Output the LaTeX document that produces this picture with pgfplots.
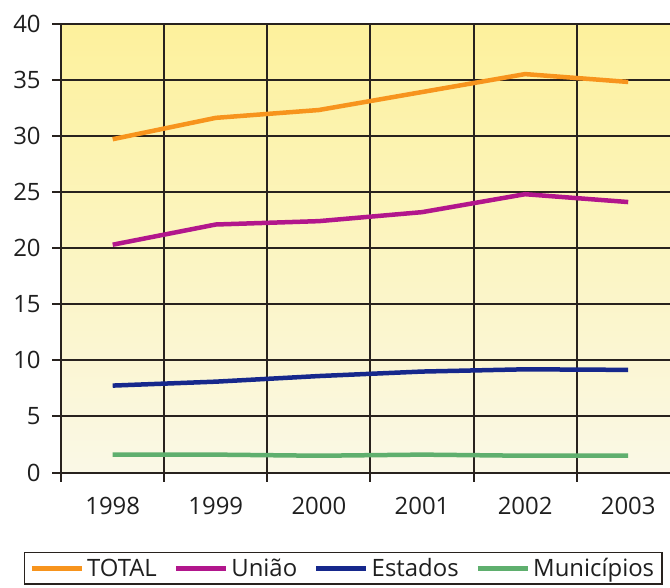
\documentclass[border=0pt]{standalone}
\usepackage{fontspec}
\setmainfont{Open Sans}
\usepackage{pgfplots}
\pgfplotsset{compat=1.18}
\definecolor{cTotal}{RGB}{247,148,29}
\definecolor{cUniao}{RGB}{178,22,140}
\definecolor{cEstados}{RGB}{22,40,140}
\definecolor{cMun}{RGB}{95,175,110}
\definecolor{gridc}{RGB}{40,34,30}
\definecolor{bgtop}{RGB}{253,241,156}
\definecolor{bgbot}{RGB}{250,248,230}
\pgfplotsset{
  legend image code/.code={\draw[#1] (0bp,0bp) -- (50bp,0bp);},
}
\begin{document}
\begin{tikzpicture}[x=1bp,y=1bp]
\begin{axis}[
  at={(59.3,-21)}, anchor=north west,
  scale only axis, width=618.6bp, height=449bp,
  xmin=-0.5, xmax=5.5, ymin=0, ymax=40,
  xtick={-0.5,0.5,...,5.5},
  xticklabels={1998,1999,2000,2001,2002,2003},
  x tick label as interval,
  ytick={0,5,...,35},
  extra y ticks={40},
  extra y tick style={grid style={draw=gray!55, line width=1.5bp}},
  grid=major,
  major grid style={draw=gridc, line width=2bp},
  axis x line*=bottom, axis y line*=left,
  axis line style={draw=gridc, line width=2bp, -},
  tick align=outside,
  major tick length=9bp,
  tick style={draw=gridc, line width=2bp},
  tick label style={font=\fontsize{24}{28}\selectfont, text=black!88},
  yticklabel style={xshift=-8bp},
  xticklabel style={yshift=-12bp},
  /pgf/number format/assume math mode=true,
  axis background/.style={shade, top color=bgtop, bottom color=bgbot},
  legend columns=4,
  legend style={at={(-0.0603,-0.176)}, anchor=north west,
    draw=gridc, line width=1.5bp, font=\fontsize{24}{28}\selectfont,
    inner xsep=5bp, inner ysep=3bp,
    nodes={inner sep=3bp, text=black!88},
    /tikz/every even column/.append style={column sep=14bp}},
  legend cell align=left,
]
\addplot[cTotal, line width=4.5bp] coordinates {(0,29.7) (1,31.6) (2,32.3) (3,33.9) (4,35.5) (5,34.8)};
\addlegendentry{TOTAL}
\addplot[cUniao, line width=4.5bp] coordinates {(0,20.3) (1,22.1) (2,22.4) (3,23.2) (4,24.8) (5,24.1)};
\addlegendentry{União}
\addplot[cEstados, line width=4.5bp] coordinates {(0,7.75) (1,8.1) (2,8.6) (3,9.0) (4,9.2) (5,9.15)};
\addlegendentry{Estados}
\addplot[cMun, line width=4.5bp] coordinates {(0,1.6) (1,1.6) (2,1.5) (3,1.6) (4,1.5) (5,1.5)};
\addlegendentry{Municípios}
\end{axis}
\pgfresetboundingbox
\useasboundingbox (0,0) rectangle (670,-588);
\end{tikzpicture}
\end{document}
